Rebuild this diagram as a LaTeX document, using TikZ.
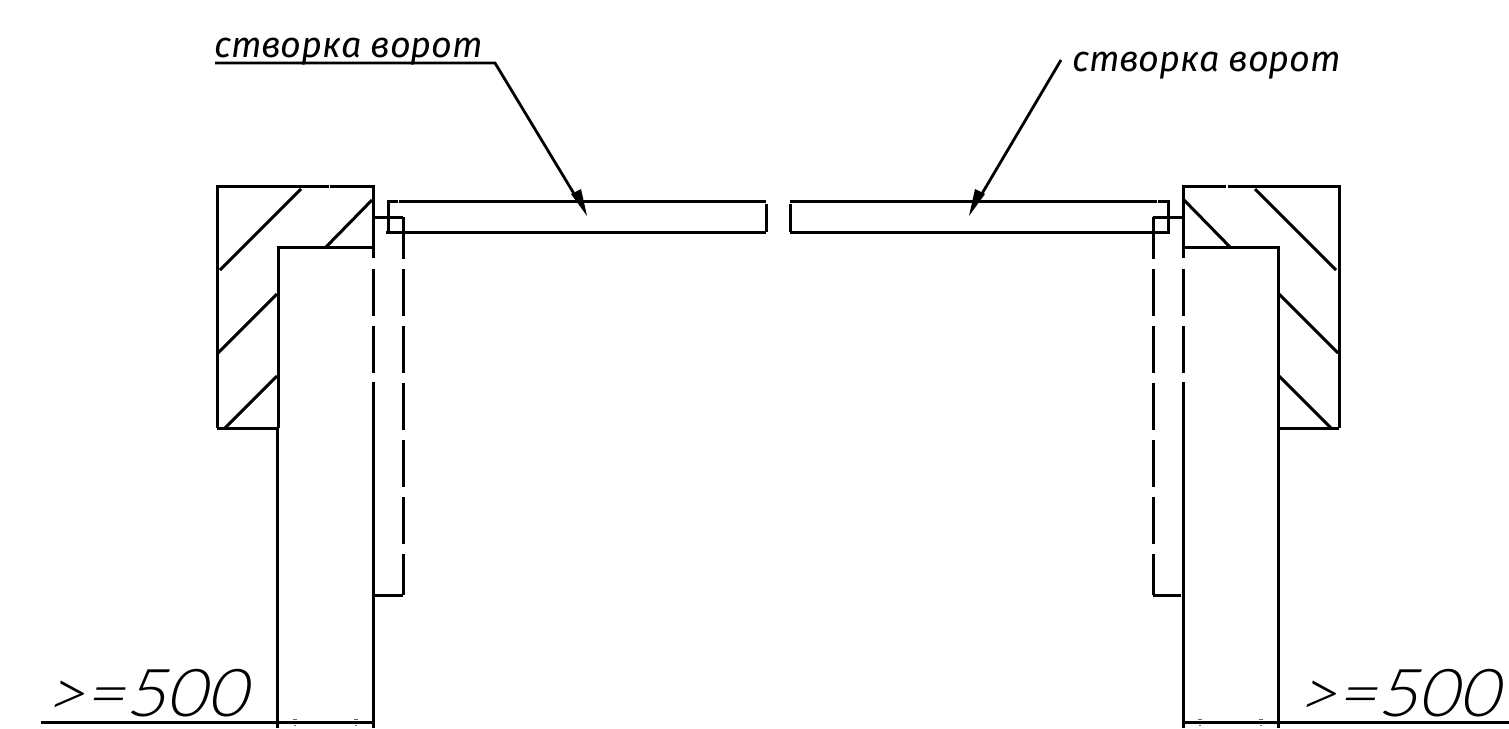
\documentclass[tikz,border=0pt]{standalone}
\usepackage{fontspec}
\setmainfont{Fira Sans}
\newfontfamily\cadthin[FakeSlant=0.24,FakeStretch=1.06]{Lato Light}
\tikzset{
  wall/.style={line width=3pt,black},
  thinl/.style={line width=3pt,black},
  lowl/.style={line width=2.3pt,black},
  hatchl/.style={line width=3pt,black},
  dashl/.style={line width=3pt,black,dash pattern=on 47pt off 10pt,dash phase=5pt},
  lead/.style={line width=2.8pt,black},
  lbl/.style={inner sep=0pt,anchor=base west},
  tickm/.style={line width=0.9pt,black!60}
}
\newcommand{\halfplan}{%
  % wall outline
  \draw[wall] (217,428) -- (217,186) -- (328.5,186);
  \draw[wall] (330,186) -- (373,186) -- (373,258);
  \draw[wall] (373,269) -- (373,316) (373,326) -- (373,373);
  \draw[wall] (373,382) -- (373,728);
  \draw[thinl] (217,428) -- (277,428);
  \draw[wall] (278,428) -- (278,247) -- (373,247);
  \draw[lowl] (277.5,428) -- (277.5,728);
  % hatching
  \draw[hatchl] (301,189) -- (220,270);
  \draw[hatchl] (372,200) -- (326,247);
  \draw[hatchl] (277,294) -- (218,353);
  \draw[hatchl] (277,376) -- (225,428);
  % gate leaf
  \draw[thinl] (766,201) -- (399,201);
  \draw[thinl] (398,201) -- (388,201) -- (388,232);
  \draw[thinl] (386,232) -- (766,232);
  \draw[wall] (766,204) -- (766,232);
  % hidden line
  \draw[thinl] (373,217) -- (403,217);
  \draw[dashl] (403,217) -- (403,595);
  \draw[wall] (403,595) -- (375,595);
  % small marks
  \draw[tickm] (293,719) -- (297,719) (294,725) -- (296,725);
  \draw[tickm] (354,719) -- (358,719) (355,725) -- (357,725);
}
\begin{document}
\begin{tikzpicture}[x=1pt,y=-1pt]
\useasboundingbox (0,0) rectangle (1509,728);
\begin{scope}\halfplan\end{scope}
\begin{scope}[xshift=1556pt,xscale=-1]\halfplan\end{scope}
% ground lines
\draw[wall] (41,722) -- (373,722);
\draw[wall] (1183,722) -- (1509,722);
% leaders
\coordinate (tipL) at (587,216);
\coordinate (kneeL) at (495,63);
\coordinate (startL) at (215,63);
\coordinate (tipR) at (969,216);
\coordinate (startR) at (1061,60);
\draw[lead] (startL) -- (kneeL) -- (576,197);
\draw[lead] (startR) -- (980,197);
\fill (tipL) -- (571,194) -- (581,189) -- cycle;
\fill (tipR) -- (975,189) -- (985,194) -- cycle;
% texts
\node[lbl] (t1) at (214,57) {\fontsize{36}{36}\itshape створка\hspace{9pt}ворот};
\node[lbl] (t2) at (1072,71) {\fontsize{36}{36}\itshape створка\hspace{9pt}ворот};
\node[lbl] (d1) at (44,716) {\cadthin\fontsize{66}{66}\selectfont >=500};
\node[lbl] (d2) at (1296,716) {\cadthin\fontsize{66}{66}\selectfont >=500};
\end{tikzpicture}
\end{document}
